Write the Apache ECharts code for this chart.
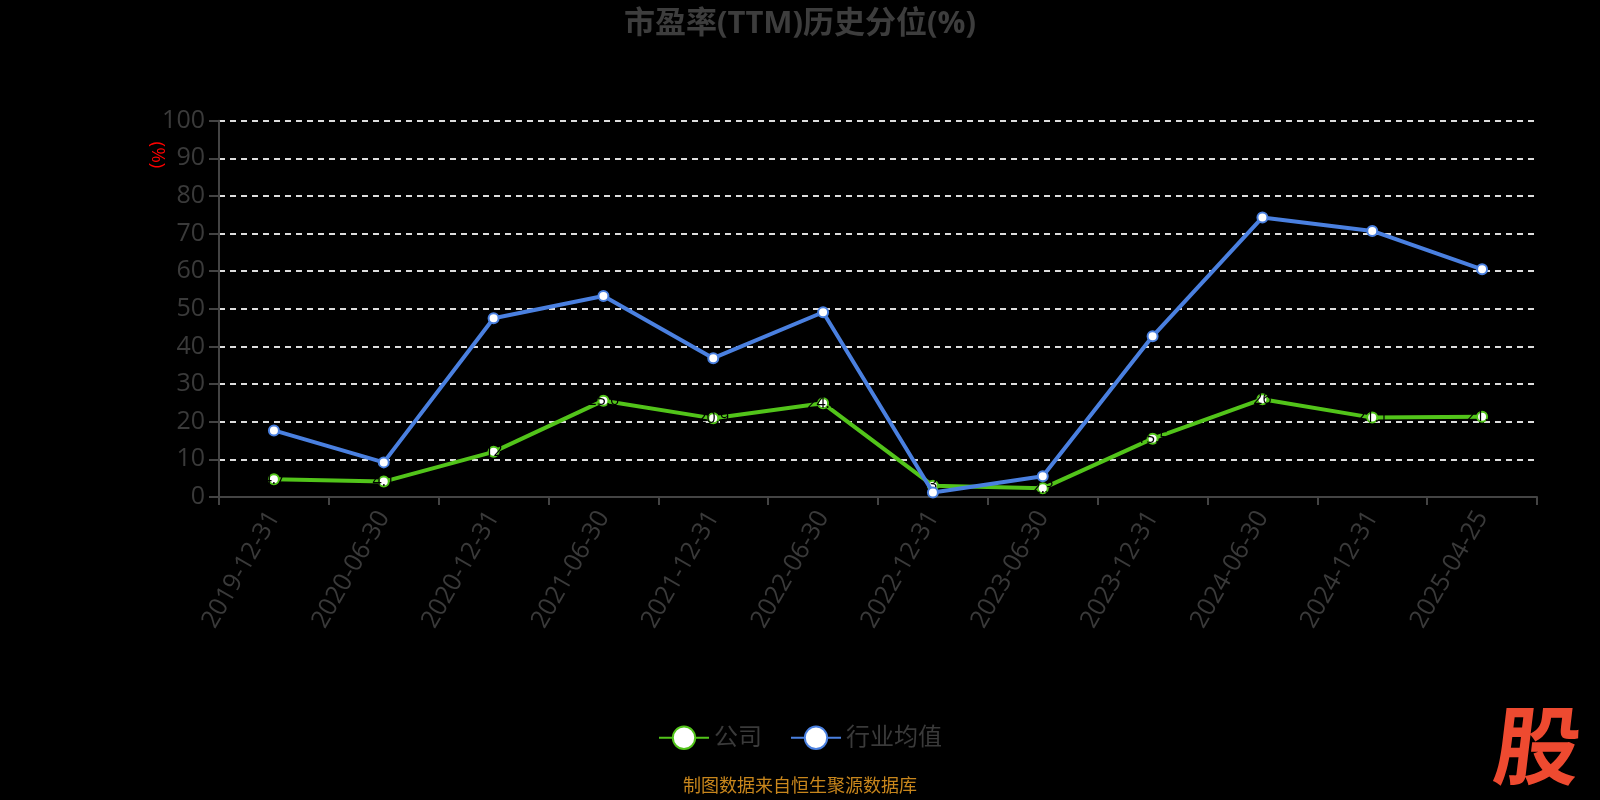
<!DOCTYPE html>
<html>
<head>
<meta charset="utf-8">
<script src="https://cdn.jsdelivr.net/npm/echarts@6/dist/echarts.min.js"></script>
<style>
html,body{margin:0;padding:0;background:#000;}
#c{width:1600px;height:800px;}
</style>
</head>
<body>
<div id="c"></div>
<script>
const categories = ['2019-12-31','2020-06-30','2020-12-31','2021-06-30','2021-12-31','2022-06-30','2022-12-31','2023-06-30','2023-12-31','2024-06-30','2024-12-31','2025-04-25'];
const companyValues = [4.7, 4.1, 12.0, 25.6, 20.9, 24.9, 3.0, 2.3, 15.5, 26.0, 21.1, 21.3];
const industryValues = [17.7, 9.2, 47.5, 53.4, 36.9, 49.1, 1.2, 5.5, 42.7, 74.3, 70.7, 60.5];
const yTicks = [0, 10, 20, 30, 40, 50, 60, 70, 80, 90, 100];
const seriesNames = ['公司', '行业均值'];

const FONT = '"Open Sans", "Noto Sans CJK SC", sans-serif';
const chart = echarts.init(document.getElementById('c'));
chart.setOption({
  backgroundColor: '#000',
  animation: false,
  textStyle: { fontFamily: FONT },
  title: {
    text: '市盈率(TTM)历史分位(%)',
    left: 'center',
    top: 4,
    textStyle: { color: '#3d3d3d', fontSize: 31, fontWeight: 'bold', fontFamily: FONT }
  },
  grid: { left: 219, right: 63, top: 120.7, bottom: 303, containLabel: false },
  legend: {
    bottom: 45,
    left: 'center',
    itemWidth: 50,
    itemHeight: 28,
    itemGap: 28,
    textStyle: { color: '#3a3a3a', fontSize: 24, fontFamily: FONT },
    data: seriesNames.map(n => ({ name: n }))
  },
  xAxis: {
    type: 'category',
    data: categories,
    boundaryGap: true,
    axisLine: { lineStyle: { color: '#444', width: 2 } },
    axisTick: { show: true, alignWithLabel: false, length: 8, lineStyle: { color: '#444', width: 2 } },
    axisLabel: { color: '#3a3a3a', fontSize: 25, rotate: 60, margin: 16, interval: 0, fontFamily: FONT },
    splitLine: { show: false }
  },
  yAxis: {
    type: 'value',
    min: yTicks[0],
    max: yTicks[yTicks.length - 1],
    interval: 10,
    axisLine: { show: true, lineStyle: { color: '#444', width: 2 } },
    axisTick: { show: true, length: 10, lineStyle: { color: '#444', width: 2 } },
    axisLabel: { color: '#3a3a3a', fontSize: 25, margin: 14, fontFamily: FONT },
    splitLine: { show: true, lineStyle: { color: '#ddd', type: [6, 5], width: 2 } }
  },
  graphic: [
    {
      type: 'text',
      x: 157, y: 155,
      rotation: -Math.PI / 2,
      style: { text: '(%)', fill: '#ff0000', fontSize: 19, fontFamily: FONT, textAlign: 'center', textVerticalAlign: 'middle' }
    },
    {
      type: 'text',
      left: 'center',
      top: 778,
      style: { text: '制图数据来自恒生聚源数据库', fill: '#c8861c', fontSize: 18, fontFamily: FONT }
    },
    {
      type: 'text',
      x: 1538, y: 745,
      skewX: -0.12,
      style: { text: '股', fill: '#ee4a30', fontSize: 86, fontWeight: 'bold', fontFamily: '"Noto Sans CJK SC"', textAlign: 'center', textVerticalAlign: 'middle' }
    }
  ],
  series: [
    {
      name: seriesNames[0],
      type: 'line',
      data: companyValues,
      symbol: 'circle',
      symbolSize: 10,
      color: '#52c41a',
      lineStyle: { color: '#52c41a', width: 4 },
      itemStyle: { color: '#fff', borderColor: '#52c41a', borderWidth: 2 },
      label: { show: true, position: 'inside', color: '#000', fontSize: 16, fontFamily: FONT },
      z: 3
    },
    {
      name: seriesNames[1],
      type: 'line',
      data: industryValues,
      symbol: 'circle',
      symbolSize: 10,
      color: '#4a80e0',
      lineStyle: { color: '#4a80e0', width: 4 },
      itemStyle: { color: '#fff', borderColor: '#4a80e0', borderWidth: 2 },
      z: 4
    }
  ]
});
</script>
</body>
</html>
